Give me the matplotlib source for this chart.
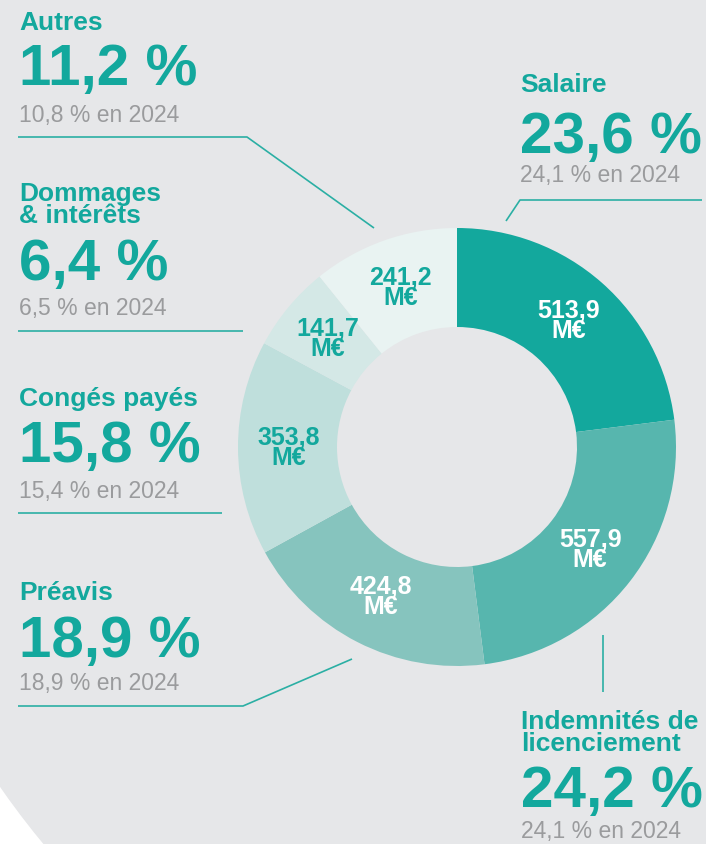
import matplotlib.pyplot as plt
from matplotlib.patches import Circle
import numpy as np

# data
categories = ["Salaire", "Indemnités de\nlicenciement", "Préavis", "Congés payés",
              "Dommages\n& intérêts", "Autres"]
amounts = [513.9, 557.9, 424.8, 353.8, 141.7, 241.2]
amount_labels = ["513,9\nM€", "557,9\nM€", "424,8\nM€", "353,8\nM€", "141,7\nM€", "241,2\nM€"]
share_2025 = ["23,6 %", "24,2 %", "18,9 %", "15,8 %", "6,4 %", "11,2 %"]
share_2024 = ["24,1 % en 2024", "24,1 % en 2024", "18,9 % en 2024", "15,4 % en 2024",
              "6,5 % en 2024", "10,8 % en 2024"]

colors = ["#13a89d", "#57b6ae", "#86c4be", "#bfdfdc", "#d4e8e6", "#e9f3f2"]
label_colors = ["white", "white", "white", "#13a89d", "#13a89d", "#13a89d"]
TEAL = "#13a89d"
GREY = "#9a9b9d"
BG = "#e6e7e9"
W, H = 706, 844

fig = plt.figure(figsize=(W / 100, H / 100), dpi=100, facecolor="white")
ax = fig.add_axes([0, 0, 1, 1])


def Y(y):
    return H - y


ax.add_patch(Circle((700, Y(300)), 852, color=BG, zorder=0))

cx, cy, r_out, ring = 457, Y(447), 219, 99
wedges, _ = ax.pie(amounts, colors=colors, startangle=90, counterclock=False,
                   center=(cx, cy), radius=r_out,
                   wedgeprops=dict(width=ring, linewidth=0))
for w in wedges:
    w.set_zorder(2)

r_lab = r_out - ring / 2 - 1
for w, lab, c in zip(wedges, amount_labels, label_colors):
    a = np.deg2rad((w.theta1 + w.theta2) / 2)
    ax.text(cx + r_lab * np.cos(a), cy + r_lab * np.sin(a), lab, ha="center", va="center",
            color=c, fontsize=18, fontweight="bold", family="Liberation Sans",
            linespacing=0.8, zorder=3)

ax.set_xlim(0, W)
ax.set_ylim(0, H)
ax.set_aspect("equal")
ax.axis("off")


def block(x, y_head, y_big, y_sub, i):
    ax.text(x, Y(y_head), categories[i], color=TEAL, fontsize=19, fontweight="bold",
            family="Liberation Sans", va="baseline", linespacing=0.92)
    ax.text(x, Y(y_big), share_2025[i], color=TEAL, fontsize=42, fontweight="bold",
            family="Liberation Sans", va="baseline")
    ax.text(x, Y(y_sub), share_2024[i], color=GREY, fontsize=16.5,
            family="Liberation Sans", va="baseline")


# right side
block(520, 92, 153, 182, 0)
block(521, 751, 807, 838, 1)
# left side
block(19, 30, 85, 122, 5)
block(19, 223, 280, 315, 4)
block(19, 406, 462, 498, 3)
block(19, 600, 657, 690, 2)

# leader lines
line_kw = dict(color="#2bafa4", lw=1.2, solid_capstyle="butt", zorder=1)
ax.plot([18, 247, 374], [Y(137), Y(137), Y(228)], **line_kw)
ax.plot([18, 243], [Y(331), Y(331)], **line_kw)
ax.plot([18, 222], [Y(513), Y(513)], **line_kw)
ax.plot([18, 243, 352], [Y(706), Y(706), Y(659)], **line_kw)
ax.plot([702, 520, 506], [Y(200), Y(200), Y(221)], **line_kw)
ax.plot([603, 603], [Y(635), Y(692)], **line_kw)

fig.savefig("out.png", dpi=100, facecolor="white")
